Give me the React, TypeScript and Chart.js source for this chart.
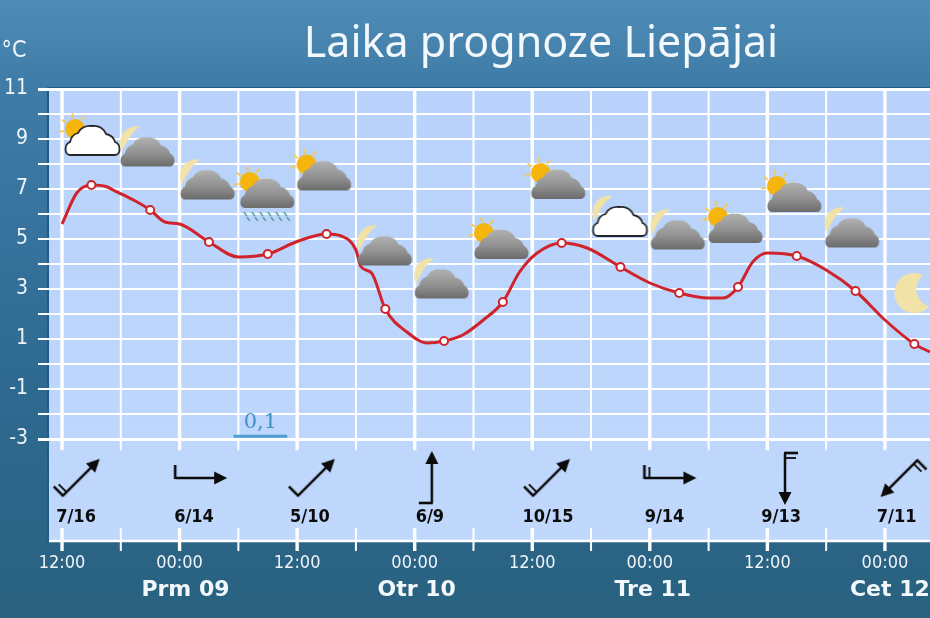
import { useEffect, useRef } from "react"
import { Chart, registerables } from "chart.js"

Chart.register(...registerables)

// hours counted from the first 12:00 tick
const hourTicks = [0, 6, 12, 18, 24, 30, 36, 42, 48, 54, 60, 66, 72, 78, 84]
const hourLabels = ["12:00", "", "00:00", "", "12:00", "", "00:00", "", "12:00", "", "00:00", "", "12:00", "", "00:00"]
const tempTicks = [-3, -2, -1, 0, 1, 2, 3, 4, 5, 6, 7, 8, 9, 10, 11]

const dayLabels = ["Prm 09", "Otr 10", "Tre 11", "Cet 12"]
const dayLabelHours = [12.6, 36.2, 60.3, 84.5]

const lineHours = [0, 1.5, 3, 4.5, 5.2, 7.3, 9, 10.5, 12, 15, 18, 21, 24, 27, 28.5, 30, 30.5, 31.6, 33, 35.2, 37.3, 39, 40.9, 43, 45, 46.7, 48.5, 51, 53.6, 57, 60, 63, 66, 67.5, 69, 70.5, 72, 75, 78, 81, 84, 87, 88.6]
const lineTemps = [5.6, 6.84, 7.16, 7.1, 6.96, 6.56, 6.16, 5.68, 5.6, 4.88, 4.28, 4.4, 4.9, 5.2, 5.12, 4.56, 3.9, 3.64, 2.2, 1.28, 0.84, 0.92, 1.16, 1.76, 2.48, 3.68, 4.44, 4.84, 4.64, 3.88, 3.24, 2.84, 2.64, 2.64, 3.08, 4.08, 4.44, 4.32, 3.76, 2.92, 1.76, 0.8, 0.48]

const markerHours = [3, 9, 15, 21, 27, 33, 39, 45, 51, 57, 63, 69, 75, 81, 87]
const markerTemps = [7.16, 6.16, 4.88, 4.4, 5.2, 2.2, 0.92, 2.48, 4.84, 3.88, 2.84, 3.08, 4.32, 2.92, 0.8]

const iconKinds = ["sunWhite", "moonGrey", "moonGrey", "sunRain", "sunGrey", "moonGrey", "moonGrey", "sunGrey", "sunGrey", "moonWhite", "moonGrey", "sunGrey", "sunGrey", "moonGrey", "moonBig"]
const iconHours = [3.06, 8.67, 14.8, 20.9, 26.7, 32.9, 38.7, 44.8, 50.6, 56.9, 62.8, 68.7, 74.7, 80.6, 87]
const iconLevels = [9.04, 8.58, 7.26, 6.92, 7.62, 4.62, 3.3, 4.88, 7.28, 5.8, 5.26, 5.52, 6.76, 5.34, 2.84]

const windLabels = ["7/16", "6/14", "5/10", "6/9", "10/15", "9/14", "9/13", "7/11"]
const windLabelHours = [1.43, 13.47, 25.3, 37.55, 49.6, 61.5, 73.4, 85.2]
const windHours = [1.9, 14.1, 25.9, 37.75, 49.9, 62, 73.8, 85.5]
const windBarbs = [2, 1, 1, 1, 2, 2, 2, 2]
const windRotation = [-45, 0, -45, -90, -45, 0, 90, 135]

const rainHour = [20.25]
const rainValue = [[-2.94, -2.84]]
const rainLabel = ["0,1"]

const xMin = -1.33
const xMax = 88.6
const yMin = -7.08
const yMax = 11
const windLevel = -4.56
const windLabelLevel = -6.12

const mono = "'DejaVu Sans Condensed', 'DejaVu Sans', sans-serif"

function makeCanvas(w: number, h: number) {
  const c = document.createElement("canvas")
  c.width = w
  c.height = h
  return c
}

function drawSun(ctx: CanvasRenderingContext2D, x: number, y: number) {
  ctx.strokeStyle = "#f7c948"
  ctx.lineWidth = 1.8
  for (let a = 170; a <= 350; a += 45) {
    const r = (a * Math.PI) / 180
    ctx.beginPath()
    ctx.moveTo(x + Math.cos(r) * 11, y + Math.sin(r) * 11)
    ctx.lineTo(x + Math.cos(r) * 16, y + Math.sin(r) * 16)
    ctx.stroke()
  }
  ctx.fillStyle = "#f5b50d"
  ctx.beginPath()
  ctx.arc(x, y, 10, 0, Math.PI * 2)
  ctx.fill()
}

function drawMoon(ctx: CanvasRenderingContext2D, l: number, t: number) {
  ctx.fillStyle = "#f1e3a8"
  ctx.beginPath()
  ctx.moveTo(l + 20, t - 11)
  ctx.bezierCurveTo(l + 6, t - 13, l - 4, t - 1, l + 2, t + 14)
  ctx.bezierCurveTo(l + 7, t + 4, l + 11, t - 5, l + 20, t - 11)
  ctx.fill()
}

function cloudPath(ctx: CanvasRenderingContext2D, l: number, t: number) {
  ctx.beginPath()
  ctx.moveTo(l + 5, t + 29)
  ctx.bezierCurveTo(l - 1, t + 29, l - 1, t + 18, l + 5, t + 16)
  ctx.bezierCurveTo(l + 6, t + 11, l + 9, t + 8, l + 13, t + 7)
  ctx.bezierCurveTo(l + 15, t + 2, l + 21, t - 1, l + 27, t)
  ctx.bezierCurveTo(l + 34, t - 1, l + 39, t + 3, l + 41, t + 8)
  ctx.bezierCurveTo(l + 46, t + 9, l + 49, t + 12, l + 50, t + 16)
  ctx.bezierCurveTo(l + 56, t + 18, l + 56, t + 29, l + 50, t + 29)
  ctx.closePath()
}

function makeIcon(kind: string) {
  const c = makeCanvas(kind === "moonBig" ? 44 : 70, 80)
  const ctx = c.getContext("2d")!
  if (kind === "moonBig") {
    ctx.fillStyle = "#f1e3a8"
    ctx.beginPath()
    ctx.arc(22, 40, 20, 0, Math.PI * 2)
    ctx.fill()
    ctx.globalCompositeOperation = "destination-out"
    ctx.beginPath()
    ctx.arc(42, 36, 18, 0, Math.PI * 2)
    ctx.fill()
    return c
  }
  const l = 8
  const t = 28
  if (kind.startsWith("sun")) drawSun(ctx, l + 10, t + 3)
  else drawMoon(ctx, l, t)
  cloudPath(ctx, l, t)
  if (kind.endsWith("White")) {
    ctx.fillStyle = "#ffffff"
    ctx.fill()
    ctx.strokeStyle = "#262626"
    ctx.lineWidth = 1.8
    ctx.stroke()
  } else {
    const g = ctx.createLinearGradient(0, t, 0, t + 30)
    g.addColorStop(0, "#b0b0b0")
    g.addColorStop(0.55, "#8f8f8f")
    g.addColorStop(1, "#686868")
    ctx.fillStyle = g
    ctx.fill()
  }
  if (kind === "sunRain") {
    ctx.strokeStyle = "#4f9a96"
    ctx.lineWidth = 1.3
    for (let i = 0; i < 6; i++) {
      for (const [dx, dy] of [[0, 0], [3, 5]]) {
        ctx.beginPath()
        ctx.moveTo(l + 4 + i * 8 + dx, t + 33 + dy)
        ctx.lineTo(l + 7 + i * 8 + dx, t + 38 + dy - 1)
        ctx.stroke()
      }
    }
  }
  return c
}

// arrow pointing right, Chart.js turns it with pointRotation
function makeWind(barbs: number) {
  const c = makeCanvas(90, 90)
  const ctx = c.getContext("2d")!
  ctx.strokeStyle = "#0b0b0b"
  ctx.fillStyle = "#0b0b0b"
  ctx.lineWidth = 2.6
  ctx.beginPath()
  ctx.moveTo(20, 45)
  ctx.lineTo(62, 45)
  ctx.stroke()
  ctx.beginPath()
  ctx.moveTo(72, 45)
  ctx.lineTo(59, 38.5)
  ctx.lineTo(59, 51.5)
  ctx.closePath()
  ctx.fill()
  for (let i = 0; i < barbs; i++) {
    ctx.lineWidth = i === 0 ? 2.6 : 1.8
    ctx.beginPath()
    ctx.moveTo(20 + i * 5, 46)
    ctx.lineTo(20 + i * 5, 32 + (i ? 2 : 0))
    ctx.stroke()
  }
  return c
}

const panelPlugin = {
  id: "panel",
  beforeDraw(chart: any) {
    const { ctx, chartArea: a } = chart
    const g = ctx.createLinearGradient(0, a.top, 0, a.bottom)
    g.addColorStop(0, "#b8d2fb")
    g.addColorStop(1, "#c0d8fc")
    ctx.save()
    ctx.fillStyle = "#1f5b82"
    ctx.fillRect(a.left - 2, a.top - 2, a.width + 2, a.height + 2)
    ctx.fillStyle = g
    ctx.fillRect(a.left, a.top, a.width, a.height)
    ctx.restore()
  },
  beforeDatasetsDraw(chart: any) {
    const { ctx, chartArea: a, scales } = chart
    const gridEnd = scales.y.getPixelForValue(-3.45)
    const lowStart = a.bottom - 13
    ctx.save()
    ctx.strokeStyle = "#ffffff"
    hourTicks.forEach((h) => {
      const x = scales.x.getPixelForValue(h)
      const big = h % 12 === 0
      ctx.lineWidth = big ? 3.4 : 2
      ctx.beginPath()
      ctx.moveTo(x, a.top)
      ctx.lineTo(x, gridEnd)
      ctx.moveTo(x, lowStart)
      ctx.lineTo(x, a.bottom + 10)
      ctx.stroke()
    })
    ctx.lineWidth = 2.4
    ctx.beginPath()
    ctx.moveTo(a.left, a.bottom)
    ctx.lineTo(a.right, a.bottom)
    ctx.stroke()
    ctx.restore()
  },
  afterDraw(chart: any) {
    const { ctx, scales } = chart
    ctx.save()
    ctx.textAlign = "center"
    ctx.textBaseline = "middle"

    ctx.fillStyle = "#f2f8fb"
    ctx.font = "43px 'Noto Sans', sans-serif"
    ctx.fillText("Laika prognoze Liepājai", 541, 45)

    ctx.font = `23px ${mono}`
    ctx.fillText("°C", 14, 51)

    ctx.font = "bold 22px 'DejaVu Sans', sans-serif"
    dayLabels.forEach((t, i) => {
      ctx.fillText(t, scales.x.getPixelForValue(dayLabelHours[i]), 590)
    })

    ctx.fillStyle = "#0c0c0c"
    ctx.font = `bold 18px ${mono}`
    windLabels.forEach((t, i) => {
      ctx.fillText(t, scales.x.getPixelForValue(windLabelHours[i]), scales.y.getPixelForValue(windLabelLevel))
    })

    ctx.fillStyle = "#3f8fc4"
    ctx.font = "21px 'DejaVu Serif', serif"
    ctx.fillText(rainLabel[0], scales.x.getPixelForValue(rainHour[0]), scales.y.getPixelForValue(-2.34))
    ctx.restore()
  },
}

export default function App() {
  const chartRef = useRef<HTMLCanvasElement>(null)

  useEffect(() => {
    if (!chartRef.current) return
    document.body.style.margin = "0"

    const chart = new Chart(chartRef.current, {
      type: "line",
      plugins: [panelPlugin],
      data: {
        datasets: [
          {
            label: "Laiks",
            data: iconHours.map((x, i) => ({ x, y: iconLevels[i] })),
            showLine: false,
            pointStyle: iconKinds.map(makeIcon),
            pointRadius: 10,
            order: 0,
          },
          {
            label: "Temperatūra",
            data: markerHours.map((x, i) => ({ x, y: markerTemps[i] })),
            showLine: false,
            pointRadius: 4,
            pointBorderWidth: 2,
            pointBackgroundColor: "#ffffff",
            pointBorderColor: "#d0242c",
            order: 1,
          },
          {
            label: "Līkne",
            data: lineHours.map((x, i) => ({ x, y: lineTemps[i] })),
            borderColor: "#d0242c",
            borderWidth: 3,
            pointRadius: 0,
            cubicInterpolationMode: "monotone",
            order: 2,
          },
          {
            label: "Vējš",
            data: windHours.map((x) => ({ x, y: windLevel })),
            showLine: false,
            pointStyle: windBarbs.map(makeWind),
            pointRotation: windRotation,
            pointRadius: 10,
            clip: false,
            order: 3,
          },
          {
            type: "bar",
            label: "Nokrišņi",
            data: rainHour.map((x, i) => ({ x, y: rainValue[i] })),
            backgroundColor: "#4d9ed6",
            barThickness: 53,
            order: 4,
          },
        ] as any,
      },
      options: {
        responsive: false,
        animation: false,
        layout: { autoPadding: false, padding: { top: 89, left: 0, right: 0, bottom: 0 } },
        plugins: { legend: { display: false }, tooltip: { enabled: false } },
        scales: {
          x: {
            type: "linear",
            offset: false,
            min: xMin,
            max: xMax,
            border: { display: false },
            grid: { display: false, drawTicks: false },
            afterBuildTicks: (axis: any) => {
              axis.ticks = hourTicks.map((value) => ({ value }))
            },
            afterFit: (axis: any) => {
              axis.height = 77
            },
            ticks: {
              autoSkip: false,
              maxRotation: 0,
              padding: 12,
              color: "#eef5f9",
              font: { family: mono, size: 18 },
              callback: (_v: any, i: number) => hourLabels[i],
            },
          },
          y: {
            min: yMin,
            max: yMax,
            border: { display: false },
            grid: {
              color: "#ffffff",
              lineWidth: (c: any) => (c.tick && (c.tick.value === 11 || c.tick.value === -3) ? 3 : 2),
              tickLength: 11,
            },
            afterBuildTicks: (axis: any) => {
              axis.ticks = tempTicks.map((value) => ({ value }))
            },
            afterFit: (axis: any) => {
              axis.width = 49
            },
            ticks: {
              autoSkip: false,
              padding: 10,
              color: "#eef5f9",
              font: { family: mono, size: 21 },
              callback: (v: any) => (Math.abs(v) % 2 === 1 ? String(v) : ""),
            },
          },
        },
      },
    } as any)

    return () => {
      chart.destroy()
    }
  }, [])

  return (
    <div style={{ width: 930, height: 618, background: "linear-gradient(#4f8cb6 0%, #3f7ca7 13%, #2f6a92 60%, #29617f 100%)" }}>
      <canvas ref={chartRef} width={930} height={618} style={{ display: "block", filter: "blur(0.4px)" }}></canvas>
    </div>
  )
}
